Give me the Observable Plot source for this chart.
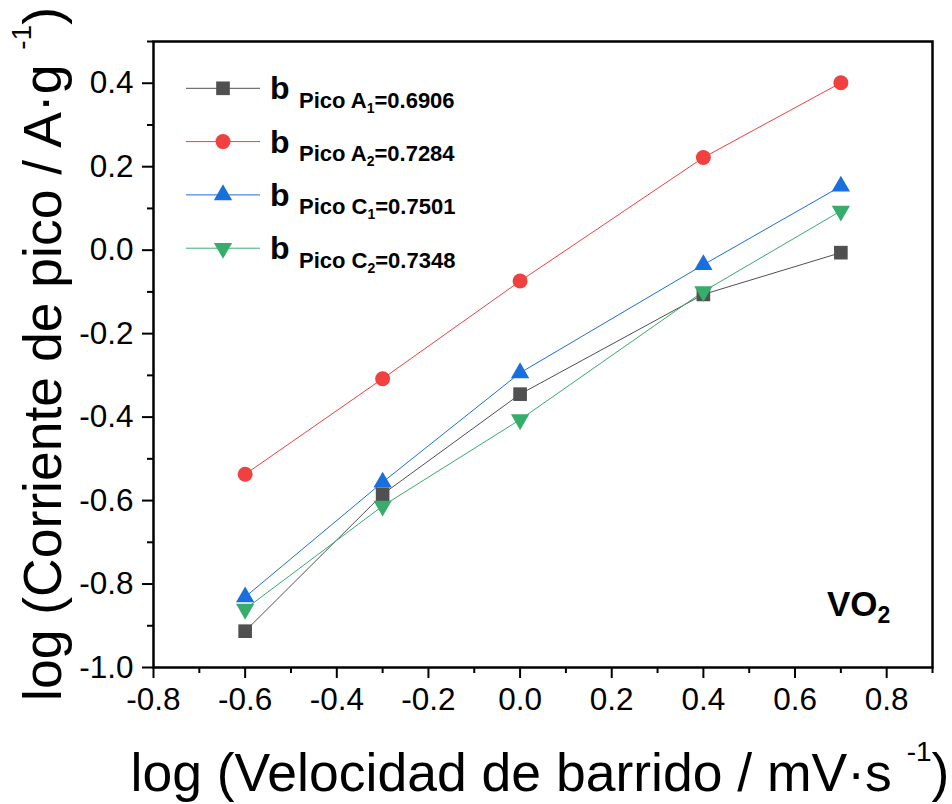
<!DOCTYPE html>
<html><head><meta charset="utf-8">
<script src="https://cdn.jsdelivr.net/npm/d3@7"></script>
<script src="https://cdn.jsdelivr.net/npm/@observablehq/plot@0.6"></script>
<style>body{margin:0;background:#fff} svg{display:block}</style>
</head><body><div id="chart"></div>
<script>
// ---- data ----
const scanRates = [-0.6, -0.3, 0.0, 0.4, 0.7];
const picoA1 = [-0.913, -0.585, -0.345, -0.106, -0.006];
const picoA2 = [-0.537, -0.308, -0.074, 0.222, 0.401];
const picoC1 = [-0.831, -0.556, -0.294, -0.035, 0.153];
const picoC2 = [-0.860, -0.613, -0.406, -0.099, 0.094];
const seriesKeys = ["A1", "A2", "C1", "C2"];
const seriesLetter = ["A", "A", "C", "C"];
const seriesIndex = ["1", "2", "1", "2"];
const bValues = ["0.6906", "0.7284", "0.7501", "0.7348"];
const colors = ["#505050", "#F14040", "#1A6FDF", "#37AD6B"];
const symbols = ["square", "circle", "triangle", "triangle"];
const rotations = [0, 0, 0, 180];
const radii = [7.7, 7.5, 6.8, 6.8];
const xTicks = [-0.8, -0.6, -0.4, -0.2, 0.0, 0.2, 0.4, 0.6, 0.8];
const xMinor = [-0.7, -0.5, -0.3, -0.1, 0.1, 0.3, 0.5, 0.7, 0.9];
const yTicks = [-1.0, -0.8, -0.6, -0.4, -0.2, 0.0, 0.2, 0.4];
const yMinor = [-0.9, -0.7, -0.5, -0.3, -0.1, 0.1, 0.3, 0.5];

const valuesBySeries = [picoA1, picoA2, picoC1, picoC2];
const rows = [];
seriesKeys.forEach((k, i) => scanRates.forEach((x, j) => rows.push({series: k, x, y: valuesBySeries[i][j]})));

const FONT = "'Liberation Sans', Arial, sans-serif";
const W = 952, H = 804;
const mL = 153, mR = 20, mT = 41, mB = 137;

const dotMarks = seriesKeys.map((k, i) => Plot.dot(rows.filter(r => r.series === k), {
  x: "x", y: "y", symbol: () => symbols[i], r: radii[i], rotate: rotations[i],
  fill: colors[i], stroke: "none"
}));

const chart = Plot.plot({
  width: W, height: H,
  marginLeft: mL, marginRight: mR, marginTop: mT, marginBottom: mB,
  style: {fontFamily: FONT, background: "white", color: "black"},
  x: {domain: [-0.8, 0.9]},
  y: {domain: [-1.0, 0.5]},
  color: {domain: seriesKeys, range: colors},
  symbol: {type: "identity"},
  marks: [
    Plot.line(rows, {x: "x", y: "y", z: "series", stroke: "series", strokeWidth: 1}),
    ...dotMarks,
    Plot.axisX(xMinor, {anchor: "bottom", tickSize: 6, strokeWidth: 2, text: null, label: null}),
    Plot.axisX(xTicks, {anchor: "bottom", tickSize: 11, tickPadding: 9, strokeWidth: 2, fontSize: 31.5,
      tickFormat: d => d.toFixed(1), label: null}),
    Plot.axisY(yMinor, {anchor: "left", tickSize: 6, strokeWidth: 2, text: null, label: null}),
    Plot.axisY(yTicks, {anchor: "left", tickSize: 11, tickPadding: 9, strokeWidth: 2, fontSize: 31.5,
      tickFormat: d => d.toFixed(1), label: null}),
    Plot.frame({stroke: "black", strokeWidth: 2.5})
  ]
});
document.getElementById("chart").appendChild(chart);

// ---- titles, legend, annotation ----
const svg = d3.select(chart);
const g = svg.append("g").attr("font-family", FONT).attr("fill", "black").attr("text-anchor", "start");

// x title
const xt = g.append("text").attr("x", 540).attr("y", 791)
  .attr("text-anchor", "middle").attr("font-size", 53.5);
xt.append("tspan").text("log (Velocidad de barrido / mV·s ");
xt.append("tspan").attr("font-size", 28).attr("dy", -30).text("-1");
xt.append("tspan").attr("dy", 30).text(")");

// y title
const yt = g.append("text").attr("transform", `translate(61,${(mT + H - mB) / 2}) rotate(-90)`)
  .attr("text-anchor", "middle").attr("font-size", 53.5);
yt.append("tspan").text("log (Corriente de pico / A·g ");
yt.append("tspan").attr("font-size", 28).attr("dy", -30).text("-1");
yt.append("tspan").attr("dy", 30).text(")");

// legend
seriesKeys.forEach((k, i) => {
  const cy = 88.3 + i * 53.3;
  g.append("line").attr("x1", 186).attr("x2", 260).attr("y1", cy).attr("y2", cy)
    .attr("stroke", colors[i]).attr("stroke-width", 1);
  const sym = {square: d3.symbolSquare, circle: d3.symbolCircle, triangle: d3.symbolTriangle}[symbols[i]];
  g.append("path").attr("d", d3.symbol(sym, Math.PI * radii[i] * radii[i])())
    .attr("transform", `translate(223,${cy}) rotate(${rotations[i]})`).attr("fill", colors[i]);
  g.append("text").attr("x", 270).attr("y", cy + 11).attr("font-size", 32).attr("font-weight", "bold").text("b");
  const t = g.append("text").attr("x", 299).attr("y", cy + 19.4).attr("font-size", 22).attr("font-weight", "bold");
  t.append("tspan").text("Pico " + seriesLetter[i]);
  t.append("tspan").attr("font-size", 14).attr("dy", 5).text(seriesIndex[i]);
  t.append("tspan").attr("dy", -5).text("=" + bValues[i]);
});

// VO2 annotation
const vo = g.append("text").attr("x", 827).attr("y", 616).attr("font-size", 35).attr("font-weight", "bold");
vo.append("tspan").text("VO");
vo.append("tspan").attr("font-size", 23).attr("dy", 7).text("2");
</script>
</body></html>
